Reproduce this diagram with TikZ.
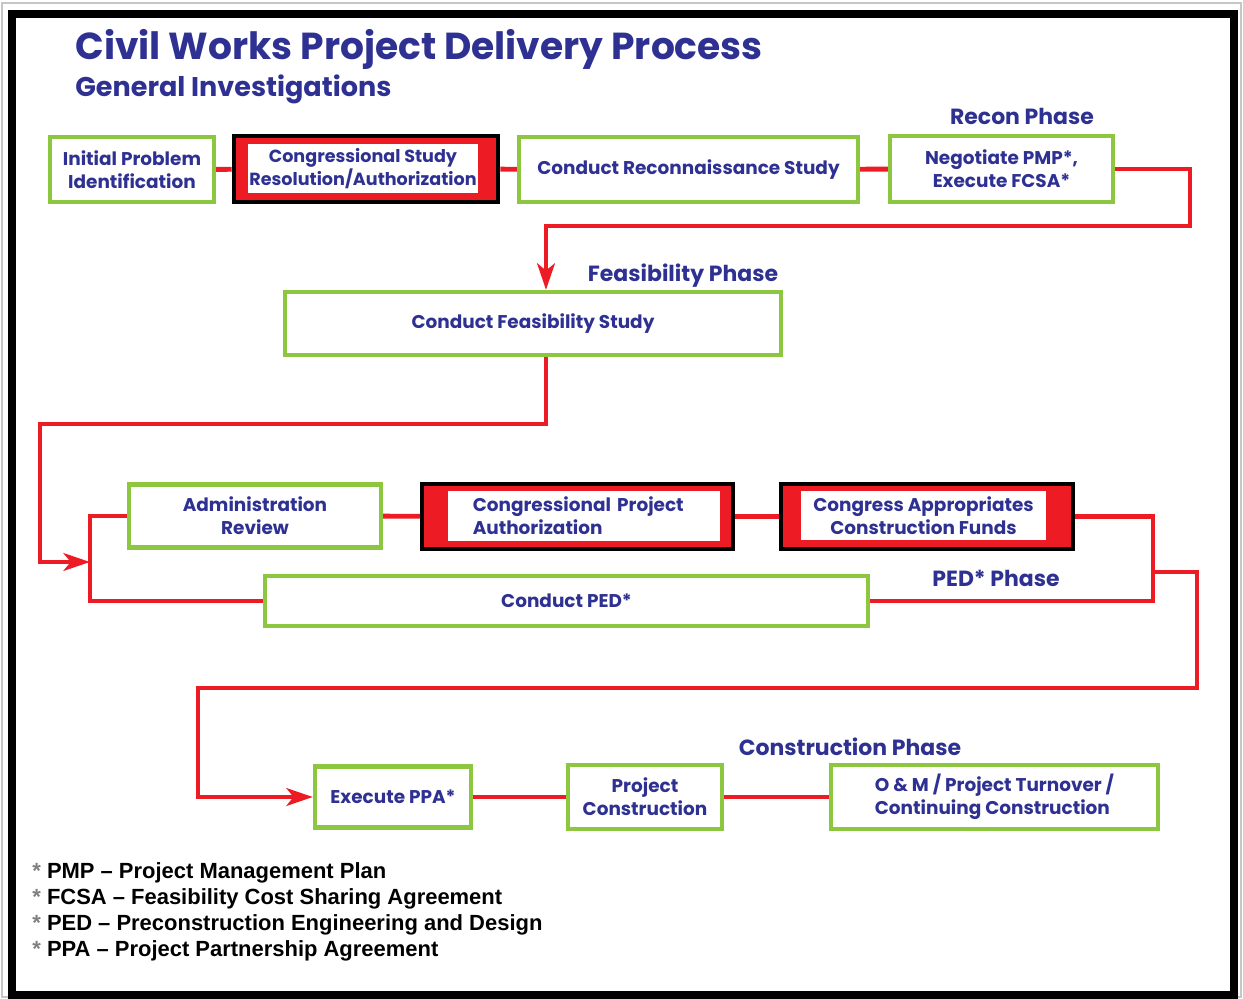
\documentclass[tikz,border=0pt]{standalone}
\usepackage{fontspec}
\setmainfont{Poppins}
\newfontfamily\legendfont{Liberation Sans}
\usetikzlibrary{arrows.meta}
\definecolor{navy}{RGB}{46,49,146}
\definecolor{lime}{RGB}{141,198,63}
\definecolor{flowred}{RGB}{237,28,36}

\begin{document}
\begin{tikzpicture}[
    x=0.02cm, y=-0.02cm,
    every node/.style={align=center, text=navy, font=\bfseries\fontsize{10.5}{13}\selectfont},
    stepbox/.style={draw=lime, line width=2.4pt, rectangle, fill=white},
    keybox/.style={draw=black, line width=2.6pt, rectangle, fill=flowred},
    keytext/.style={rectangle, fill=white, inner sep=0pt},
    phase/.style={font=\bfseries\fontsize{12.5}{15}\selectfont},
    link/.style={draw=flowred, line width=2.8pt},
    arrow/.style={link, -{Stealth[length=15pt, width=10pt, inset=4pt]}}
]
\useasboundingbox (0,0) rectangle (1243,999);

% Frame of the slide
\fill[white] (0,0) rectangle (1243,999);
\draw[gray!45, line width=0.6pt] (2,3) rectangle (1241,997);
\draw[black, line width=4.5pt] (12,14) rectangle (1234,995);

% Title
\node[anchor=base west, inner sep=0pt, font=\bfseries\fontsize{21.4}{26}\selectfont] (title) at (75,60) {Civil Works Project Delivery Process};
\node[anchor=base west, inner sep=0pt, font=\bfseries\fontsize{15.4}{18}\selectfont] (subtitle) at (75,97) {General Investigations};

% Phase labels
\node[phase] (reconlbl) at (1022,116) {Recon Phase};
\node[phase] (feaslbl) at (683,276) {Feasibility Phase};
\node[phase] (pedlbl) at (996,578) {PED* Phase};
\node[phase] (conlbl) at (850,747) {Construction Phase};

% Recon row
\node[stepbox, minimum width=3.28cm, minimum height=1.30cm] (init) at (132,169.5) {Initial Problem\\Identification};
\node[keybox, minimum width=5.28cm, minimum height=1.32cm] (csr) at (366,169) {};
\node[keytext, minimum width=4.6cm, minimum height=0.98cm, font=\bfseries\fontsize{10}{9.5}\selectfont] (csrtext) at (363,168.5) {Congressional Study\\Resolution/Authorization};
\node[stepbox, minimum width=6.78cm, minimum height=1.30cm] (recon) at (688.5,169.5) {Conduct Reconnaissance Study};
\node[stepbox, minimum width=4.46cm, minimum height=1.32cm] (neg) at (1001.5,169) {Negotiate PMP*,\\Execute FCSA*};

% Feasibility
\node[stepbox, minimum width=9.92cm, minimum height=1.26cm] (feas) at (533,323.5) {Conduct Feasibility Study};

% PED row
\node[stepbox, minimum width=5.04cm, minimum height=1.26cm] (admin) at (255,516) {Administration\\Review};
\node[keybox, minimum width=6.22cm, minimum height=1.30cm] (cpa) at (577.5,516.5) {};
\node[keytext, minimum width=5.44cm, minimum height=1.0cm, align=left, text width=4.45cm] (cpatext) at (584,516) {Congressional Project\\Authorization};
\node[keybox, minimum width=5.84cm, minimum height=1.30cm] (cacf) at (927,516.5) {};
\node[keytext, minimum width=4.9cm, minimum height=0.98cm] (cacftext) at (923.5,515.5) {Congress Appropriates\\Construction Funds};
\node[stepbox, minimum width=12.06cm, minimum height=1.0cm] (ped) at (566.5,601) {Conduct PED*};

% Construction row
\node[stepbox, minimum width=3.12cm, minimum height=1.22cm] (ppa) at (393,797) {Execute PPA*};
\node[stepbox, minimum width=3.08cm, minimum height=1.28cm] (pc) at (645,797) {Project\\Construction};
\node[stepbox, minimum width=6.54cm, minimum height=1.28cm, align=left] (om) at (994.5,797) {O \& M / Project Turnover /\\Continuing Construction};

% Bend points of the red lines
\coordinate (r1) at (1190,226);
\coordinate (r2) at (546,226);
\coordinate (f1) at (40,424);
\coordinate (f2) at (40,562);
\coordinate (loop) at (90,562);
\coordinate (p1) at (1153,572);
\coordinate (p2) at (1197,688);
\coordinate (p3) at (198,688);

% Connectors
\draw[link] (init) -- (csr);
\draw[link] (csr) -- (recon);
\draw[link] (recon) -- (neg);
\draw[arrow] (neg.east) -| (r1) -- (r2) -- (r2 |- feas.north);
\draw[arrow] (r2 |- feas.south) |- (f1) -- (f2) -- (loop);
\draw[link] (admin.west) -| (loop) |- (ped.west);
\draw[link] (admin) -- (cpa);
\draw[link] (cpa) -- (cacf);
\draw[link] (cacf.east) -| (p1) |- (ped.east);
\draw[arrow] (p1) -| (p2) -- (p3) |- (ppa.west);
\draw[link] (ppa) -- (pc);
\draw[link] (pc) -- (om);

% Footnotes
\node[anchor=west, inner sep=0pt, align=left, text=black, font=\legendfont\bfseries\fontsize{12.5}{14.7}\selectfont] (notes) at (32,912)
  {{\color{gray}*} PMP – Project Management Plan\\
   {\color{gray}*} FCSA – Feasibility Cost Sharing Agreement\\
   {\color{gray}*} PED – Preconstruction Engineering and Design\\
   {\color{gray}*} PPA – Project Partnership Agreement};

\end{tikzpicture}
\end{document}
